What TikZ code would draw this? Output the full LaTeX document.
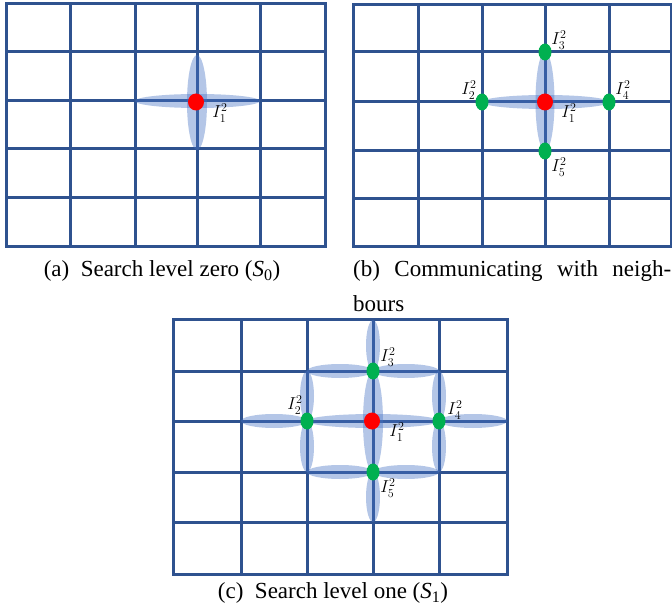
\documentclass[tikz,border=0pt]{standalone}
\usepackage{fontspec}
\setmainfont{Liberation Serif}
\usetikzlibrary{calc,shapes.geometric}
\definecolor{gridblue}{RGB}{47,82,143}
\definecolor{petalblue}{RGB}{68,114,196}
\definecolor{dotgreen}{RGB}{0,176,80}
\definecolor{dotred}{RGB}{255,0,0}
\begin{document}
\begin{tikzpicture}[x=1pt,y=-1pt,
  gridline/.style={draw=gridblue,line width=3pt,line cap=rect},
  petal/.style={fill=petalblue,fill opacity=0.4,draw=none},
  reddot/.style={fill=dotred,draw=none,ellipse,minimum width=16pt,minimum height=17pt,inner sep=0pt},
  greendot/.style={fill=dotgreen,draw=none,ellipse,minimum width=13pt,minimum height=17pt,inner sep=0pt},
  lbl/.style={font=\fontsize{17}{19}\selectfont,inner sep=0pt},
  captxt/.style={font=\fontsize{23}{27}\selectfont,inner sep=0pt}]
\useasboundingbox (0,0) rectangle (672,612);
\fill[white] (0,0) rectangle (672,612);
% ---------- panel (a) ----------
\foreach \x in {6,70,135,197,260,325} \draw[gridline] (\x,4) -- (\x,247);
\foreach \y in {4,52,101,149,198,247} \draw[gridline] (6,\y) -- (325,\y);
\fill[petal] (197.5,101) ellipse [x radius=62.5, y radius=7];
\fill[petal] (197,102.5) ellipse [x radius=10, y radius=47.5];
\node[reddot] (a1) at (196,102) {};
\node[lbl] (la1) at ($(a1)+(24,11)$) {$I_1^2$};
\node[captxt] (capa) at (162,271) {(a)\hspace{0.5em}Search level zero (\textit{S}\textsubscript{0})};
% ---------- panel (b) ----------
\foreach \x in {353,418,482,545,609,671} \draw[gridline] (\x,5) -- (\x,247);
\foreach \y in {5,52,102,151,199,247} \draw[gridline] (353,\y) -- (671,\y);
\fill[petal] (545.5,102) ellipse [x radius=63.5, y radius=7];
\fill[petal] (545,101.5) ellipse [x radius=9.5, y radius=49.5];
\node[reddot] (b1) at (545,102) {};
\node[greendot] (b3) at (545,52) {};
\node[greendot] (b2) at (482,102) {};
\node[greendot] (b4) at (609,102) {};
\node[greendot] (b5) at (545,151) {};
\node[lbl] (lb1) at ($(b1)+(24,11)$) {$I_1^2$};
\node[lbl] (lb2) at ($(b2)+(-13,-12)$) {$I_2^2$};
\node[lbl] (lb3) at ($(b3)+(14,-12)$) {$I_3^2$};
\node[lbl] (lb4) at ($(b4)+(14,-12)$) {$I_4^2$};
\node[lbl] (lb5) at ($(b5)+(14,16)$) {$I_5^2$};
\node[captxt,anchor=west] (capb1) at (353,271) {\hbox to 318pt{(b)\hfill Communicating\hfill with\hfill neigh-}};
\node[captxt,anchor=west] (capb2) at (353,304) {bours};
% ---------- panel (c) ----------
\foreach \x in {173,241,307,373,439,507} \draw[gridline] (\x,320) -- (\x,574);
\foreach \y in {320,371,421,472,522,574} \draw[gridline] (173,\y) -- (507,\y);
% central cross
\fill[petal] (373,421) ellipse [x radius=66, y radius=7];
\fill[petal] (373,421.5) ellipse [x radius=10, y radius=50.5];
% petals of I3
\fill[petal] (373,345.5) ellipse [x radius=7, y radius=25.5];
\fill[petal] (340,371) ellipse [x radius=33, y radius=7];
\fill[petal] (406,371) ellipse [x radius=33, y radius=7];
% petals of I2
\fill[petal] (274,421) ellipse [x radius=33, y radius=7];
\fill[petal] (307,396) ellipse [x radius=7, y radius=25];
\fill[petal] (307,446.5) ellipse [x radius=7, y radius=25.5];
% petals of I4
\fill[petal] (473,421) ellipse [x radius=34, y radius=7];
\fill[petal] (439,396) ellipse [x radius=7, y radius=25];
\fill[petal] (439,446.5) ellipse [x radius=7, y radius=25.5];
% petals of I5
\fill[petal] (373,497) ellipse [x radius=7, y radius=25];
\fill[petal] (340,472) ellipse [x radius=33, y radius=7];
\fill[petal] (406,472) ellipse [x radius=33, y radius=7];
\node[reddot] (c1) at (372,421) {};
\node[greendot] (c3) at (373,371) {};
\node[greendot] (c2) at (307,421) {};
\node[greendot] (c4) at (439,421) {};
\node[greendot] (c5) at (373,472) {};
\node[lbl] (lc1) at ($(c1)+(25,11)$) {$I_1^2$};
\node[lbl] (lc2) at ($(c2)+(-12,-16)$) {$I_2^2$};
\node[lbl] (lc3) at ($(c3)+(15,-14)$) {$I_3^2$};
\node[lbl] (lc4) at ($(c4)+(16,-11)$) {$I_4^2$};
\node[lbl] (lc5) at ($(c5)+(15,16)$) {$I_5^2$};
\node[captxt] (capc) at (333,593) {(c)\hspace{0.5em}Search level one (\textit{S}\textsubscript{1})};
\end{tikzpicture}
\end{document}
